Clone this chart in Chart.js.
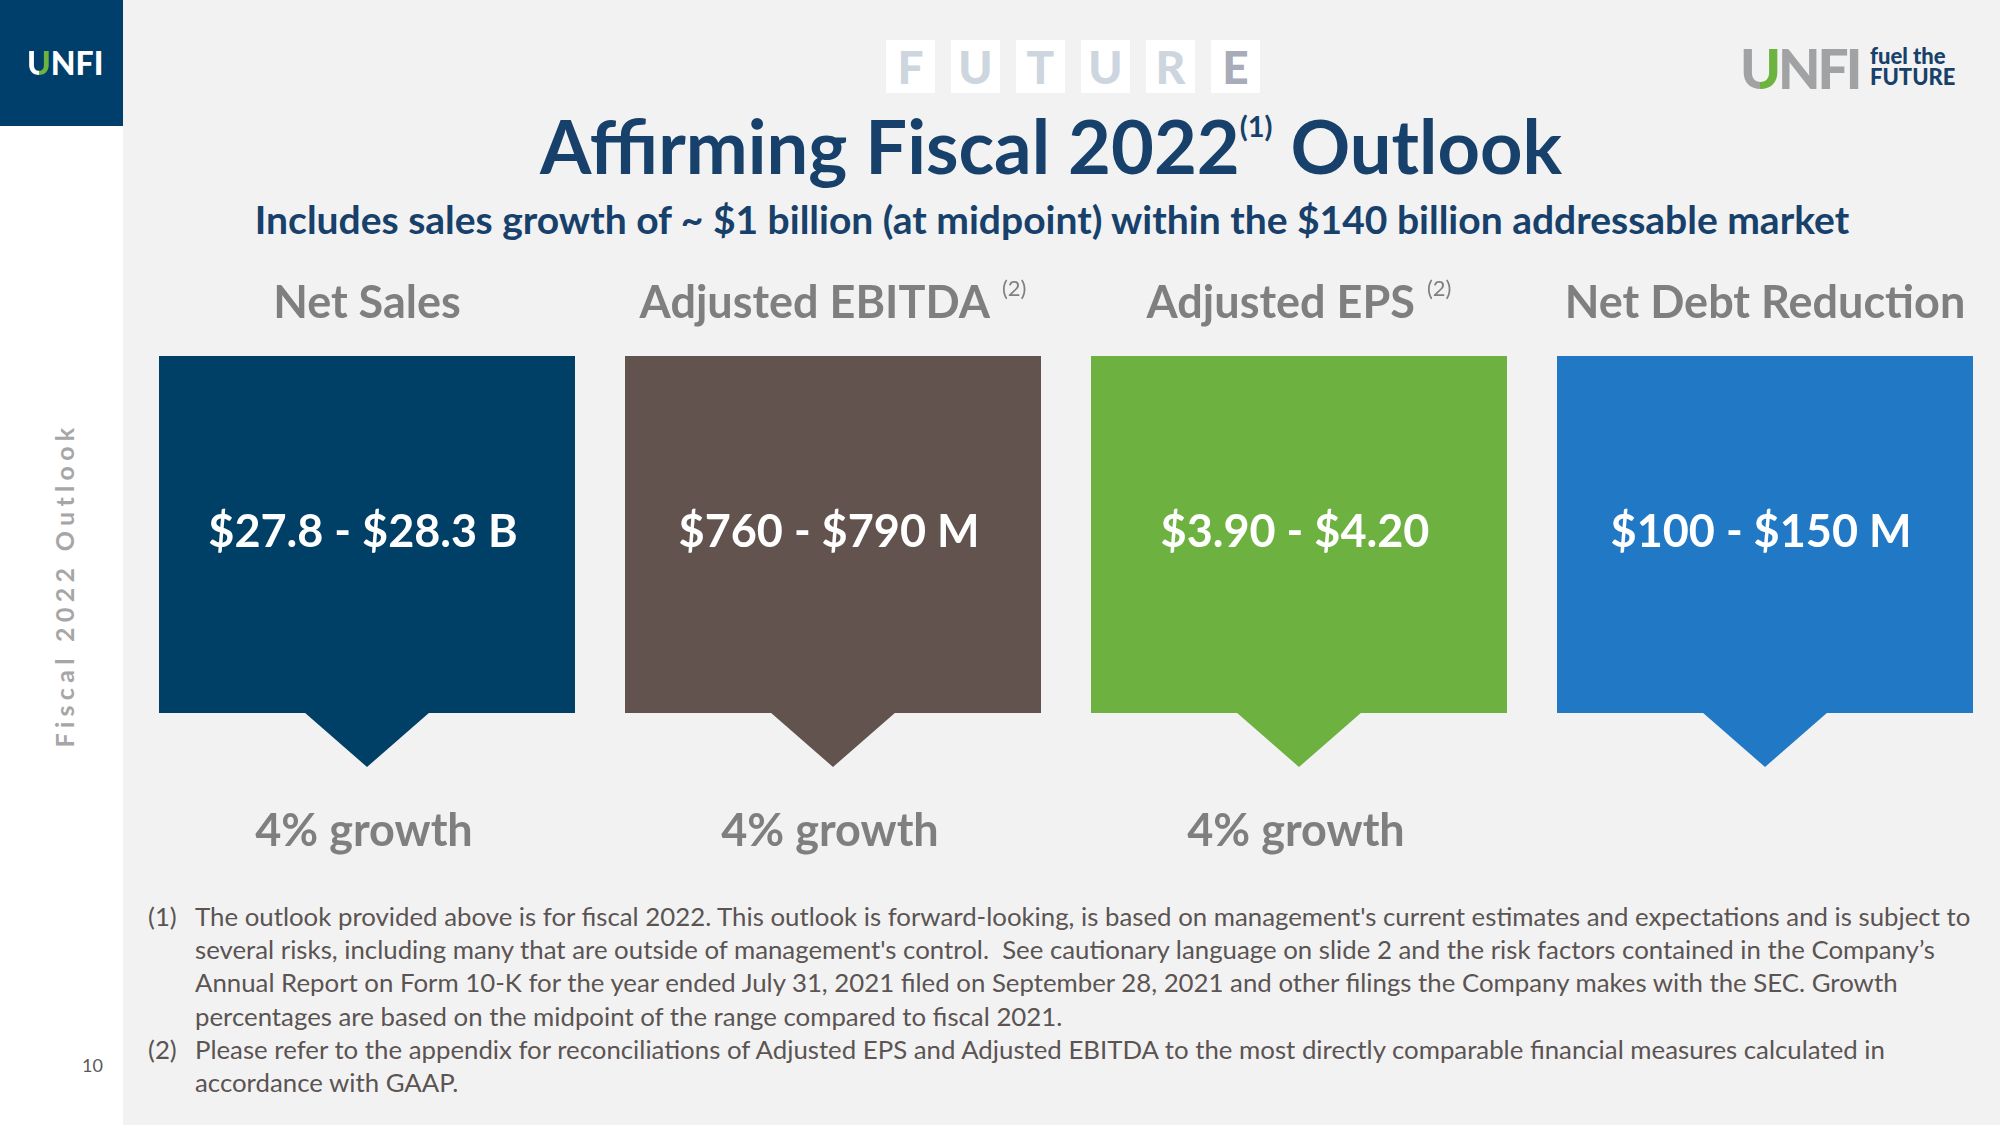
<!DOCTYPE html>
<html>
<head>
<meta charset="utf-8">
<script src="https://cdn.jsdelivr.net/npm/chart.js"></script>
<style>
html, body { margin: 0; padding: 0; }
body { width: 2000px; height: 1125px; background: #F2F2F2; position: relative; overflow: hidden; font-family: Lato, "Open Sans", sans-serif; }
.side { position: absolute; left: 0; top: 0; width: 123px; height: 1125px; background: #fff; }
.corner { position: absolute; left: 0; top: 0; width: 123px; height: 126px; background: #003F6B; }
.logo { position: absolute; left: 27px; top: 40px; font-weight: 900; font-size: 32px; color: #fff; line-height: 46px; }
.logo .u { background: linear-gradient(90deg, #fff 52%, #6CB33F 52%); -webkit-background-clip: text; background-clip: text; color: transparent; }
.brand { position: absolute; left: 1740px; top: 39px; font-weight: 900; font-size: 55px; line-height: 58px; color: #A0A2A4; letter-spacing: -3px; }
.brand .u { background: linear-gradient(90deg, #A0A2A4 52%, #6CB33F 52%); -webkit-background-clip: text; background-clip: text; color: transparent; }
.tag { position: absolute; left: 1870px; top: 45px; font-weight: 900; font-size: 22px; line-height: 21px; color: #17416B; }
.tiles { position: absolute; left: 886px; top: 40px; display: flex; gap: 16px; }
.tiles span { display: block; width: 49px; height: 53px; background: #fff; text-align: center; font-weight: 900; font-size: 46px; line-height: 54px; color: #CDD5DE; }
.tiles span.last { color: #A8ACB8; }
.title { position: absolute; left: 0; width: 2102px; top: 109px; text-align: center; font-weight: bold; font-size: 74px; line-height: 74px; color: #17416B; white-space: nowrap; }
.title sup { font-size: 29px; vertical-align: baseline; position: relative; top: -37px; }
.subtitle { position: absolute; left: 0; width: 2104px; top: 200px; text-align: center; font-weight: bold; font-size: 39px; line-height: 39px; color: #17416B; white-space: nowrap; }
.vert { position: absolute; left: 64px; top: 585px; transform: translate(-50%, -50%) rotate(-90deg); white-space: nowrap; font-weight: bold; font-size: 25px; letter-spacing: 5.3px; color: #A6A6A6; }
.notes { position: absolute; left: 148px; top: 900px; font-size: 25.8px; line-height: 33.2px; color: #5B5453; }
.note { display: flex; white-space: nowrap; }
.note .n { width: 47px; flex: none; }
.pagenum { position: absolute; left: 82px; top: 1054px; font-size: 18px; color: #595959; }
#slideChart { position: absolute; left: 134px; top: 250px; }
</style>
</head>
<body>
<div class="side"></div>
<div class="corner"><div class="logo"><span class="u">U</span>NFI</div></div>
<div class="brand"><span class="u">U</span>NFI</div>
<div class="tag">fuel the<br>FUTURE</div>
<div class="tiles"><span>F</span><span>U</span><span>T</span><span>U</span><span>R</span><span class="last">E</span></div>
<div class="title">Affirming Fiscal 2022<sup>(1)</sup> Outlook</div>
<div class="subtitle">Includes sales growth of ~ $1 billion (at midpoint) within the $140 billion addressable market</div>
<div class="vert">Fiscal 2022 Outlook</div>
<canvas id="slideChart" width="1864" height="620"></canvas>
<div class="notes">
  <div class="note"><span class="n">(1)</span><span>The outlook provided above is for fiscal 2022. This outlook is forward-looking, is based on management's current estimates and expectations and is subject to<br>several risks, including many that are outside of management's control.&nbsp; See cautionary language on slide 2 and the risk factors contained in the Company’s<br>Annual Report on Form 10-K for the year ended July 31, 2021 filed on September 28, 2021 and other filings the Company makes with the SEC. Growth<br>percentages are based on the midpoint of the range compared to fiscal 2021.</span></div>
  <div class="note"><span class="n">(2)</span><span>Please refer to the appendix for reconciliations of Adjusted EPS and Adjusted EBITDA to the most directly comparable financial measures calculated in<br>accordance with GAAP.</span></div>
</div>
<div class="pagenum">10</div>

<script>
// slide data
const categories = ['Net Sales', 'Adjusted EBITDA', 'Adjusted EPS', 'Net Debt Reduction'];
const headingNotes = ['', '(2)', '(2)', ''];
const rangeLabels = ['$27.8 - $28.3 B', '$760 - $790 M', '$3.90 - $4.20', '$100 - $150 M'];
const growthLabels = ['4% growth', '4% growth', '4% growth', ''];
const tileHeights = [1, 1, 1, 1];
const pointerLevels = [0, 0, 0, 0];

const boxColors = ['#003F66', '#62534F', '#6DB140', '#2178C4'];
const headFont = 'bold 45px Lato';
const noteFont = '22px Lato';
const greyText = '#7F7F7F';

// downward pointer under each box, drawn as a point image
function makePointer(color) {
    const c = document.createElement('canvas');
    c.width = 126;
    c.height = 108;
    const g = c.getContext('2d');
    g.fillStyle = color;
    g.beginPath();
    g.moveTo(0, 53);
    g.lineTo(126, 53);
    g.lineTo(63, 108);
    g.closePath();
    g.fill();
    return c;
}

const labelPlugin = {
    id: 'slideLabels',
    afterDatasetsDraw(chart) {
        const ctx = chart.ctx;
        const area = chart.chartArea;
        const yScale = chart.scales.y;
        const bars = chart.getDatasetMeta(1).data;
        ctx.save();
        ctx.textBaseline = 'alphabetic';
        bars.forEach((bar, i) => {
            const cx = bar.x;

            ctx.font = headFont;
            const w = ctx.measureText(categories[i]).width;
            let noteW = 0;
            if (headingNotes[i]) {
                ctx.font = noteFont;
                noteW = ctx.measureText(headingNotes[i]).width + 12;
            }
            const left = cx - (w + noteW) / 2;
            ctx.fillStyle = greyText;
            ctx.textAlign = 'left';
            ctx.font = headFont;
            ctx.fillText(categories[i], left, area.top - 38);
            if (headingNotes[i]) {
                ctx.font = noteFont;
                ctx.fillText(headingNotes[i], left + w + 12, area.top - 60);
            }

            ctx.textAlign = 'center';
            ctx.font = headFont;
            ctx.fillStyle = '#ffffff';
            ctx.fillText(rangeLabels[i], cx - 4, yScale.getPixelForValue(tileHeights[i] / 2) + 12);

            ctx.fillStyle = greyText;
            ctx.fillText(growthLabels[i], cx - 3, area.bottom + 133);
        });
        ctx.restore();
    }
};

const slideChart = new Chart(document.getElementById('slideChart'), {
    type: 'bar',
    data: {
        labels: categories,
        datasets: [
            {
                type: 'line',
                data: pointerLevels,
                showLine: false,
                pointStyle: boxColors.map(makePointer),
                pointRadius: 5,
                pointHoverRadius: 5,
                clip: false,
                order: 2
            },
            {
                data: tileHeights,
                backgroundColor: boxColors,
                borderWidth: 0,
                categoryPercentage: 416 / 466,
                barPercentage: 1,
                order: 1
            }
        ]
    },
    options: {
        responsive: false,
        animation: false,
        events: [],
        layout: { autoPadding: false, padding: { top: 106, bottom: 157, left: 0, right: 0 } },
        plugins: {
            legend: { display: false },
            tooltip: { enabled: false }
        },
        scales: {
            x: { display: false },
            y: { display: false, min: 0, max: 1 }
        }
    },
    plugins: [labelPlugin]
});
</script>
</body>
</html>
